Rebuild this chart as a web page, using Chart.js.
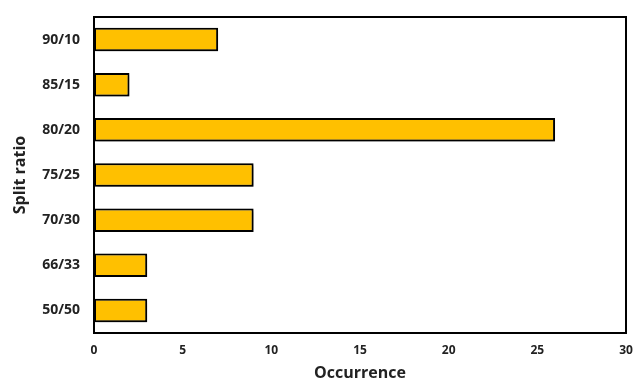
<!DOCTYPE html>
<html>
<head>
<meta charset="utf-8">
<script src="https://cdn.jsdelivr.net/npm/chart.js@4/dist/chart.umd.min.js"></script>
<style>
  html, body { margin: 0; padding: 0; background: #fff; }
  #wrap { width: 633px; height: 383px; }
</style>
</head>
<body>
<div id="wrap"><canvas id="chart"></canvas></div>
<script>
const categories = ['90/10', '85/15', '80/20', '75/25', '70/30', '66/33', '50/50'];
const occurrences = [7, 2, 26, 9, 9, 3, 3];
const xTicks = [0, 5, 10, 15, 20, 25, 30];

const FONT = "'Open Sans', 'Liberation Sans', sans-serif";

// drop shadow under the bars
const barShadow = {
  id: 'barShadow',
  beforeDatasetsDraw(chart) {
    const ctx = chart.ctx;
    ctx.save();
    ctx.shadowColor = 'rgba(0,0,0,0.4)';
    ctx.shadowBlur = 4;
    ctx.shadowOffsetX = 2;
    ctx.shadowOffsetY = 2;
  },
  afterDatasetsDraw(chart) {
    chart.ctx.restore();
  },
};

// box round the plot area
const frame = {
  id: 'frame',
  afterDraw(chart) {
    const { ctx, chartArea: a } = chart;
    ctx.save();
    ctx.strokeStyle = '#000';
    ctx.lineWidth = 2;
    ctx.strokeRect(a.left, a.top, a.right - a.left, a.bottom - a.top);
    ctx.restore();
  },
};

new Chart(document.getElementById('chart'), {
  type: 'bar',
  data: {
    labels: categories,
    datasets: [
      {
        data: occurrences,
        backgroundColor: '#FFC000',
        borderColor: '#000',
        borderWidth: 2,
        borderSkipped: false,
        barPercentage: 0.52,
        categoryPercentage: 1,
      },
    ],
  },
  options: {
    indexAxis: 'y',
    responsive: true,
    maintainAspectRatio: false,
    animation: false,
    layout: { padding: { top: 17, right: 7, left: 11, bottom: 0 } },
    plugins: {
      legend: { display: false },
      tooltip: { enabled: false },
    },
    scales: {
      x: {
        min: 0,
        max: 30,
        afterBuildTicks(axis) {
          axis.ticks = xTicks.map((v) => ({ value: v }));
        },
        grid: { display: false, drawTicks: false },
        border: { display: false },
        ticks: {
          color: '#222',
          padding: 10,
          font: { family: FONT, size: 12, weight: 'bold' },
        },
        title: {
          display: true,
          text: 'Occurrence',
          color: '#222',
          padding: { top: 4, bottom: 0 },
          font: { family: FONT, size: 16, weight: 'bold' },
        },
        afterFit(axis) {
          axis.height = 50;
          axis.paddingLeft = 0;
          axis.paddingRight = 0;
        },
      },
      y: {
        grid: { display: false, drawTicks: false },
        border: { display: false },
        ticks: {
          color: '#222',
          padding: 14,
          font: { family: FONT, size: 14, weight: 'bold' },
        },
        title: {
          display: true,
          text: 'Split ratio',
          color: '#222',
          padding: { top: 0, bottom: 0 },
          font: { family: FONT, size: 16, weight: 'bold' },
        },
        afterFit(axis) {
          axis.width = 83;
          axis.paddingTop = 0;
          axis.paddingBottom = 0;
        },
      },
    },
  },
  plugins: [barShadow, frame],
});
</script>
</body>
</html>
